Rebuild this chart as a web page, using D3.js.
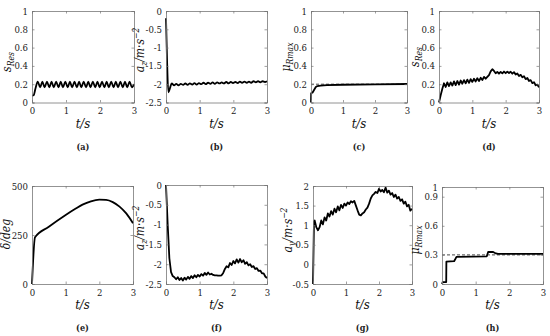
<!DOCTYPE html>
<html><head><meta charset="utf-8">
<script src="https://cdn.jsdelivr.net/npm/d3@7"></script>
<style>
body{margin:0;background:#fff}
svg{display:block}
svg text{font-family:"DejaVu Serif Condensed","DejaVu Serif",serif}
</style>
</head><body>
<script>
// ---------- DATA ----------
const xTicks = [0, 1, 2, 3];
const panelLetters = ["(a)", "(b)", "(c)", "(d)", "(e)", "(f)", "(g)", "(h)"];

// (a) s_Res
const tA = [0, 0.05, 0.1, 0.17, 0.24, 0.305, 0.37, 0.44, 0.51, 0.575, 0.64, 0.71, 0.78, 0.845, 0.91, 0.98, 1.05, 1.115, 1.18, 1.25, 1.32, 1.385, 1.45, 1.52, 1.59, 1.655, 1.72, 1.79, 1.86, 1.925, 1.99, 2.06, 2.13, 2.195, 2.26, 2.33, 2.4, 2.465, 2.53, 2.6, 2.67, 2.735, 2.8, 2.87, 2.94, 3.0];
const vA = [0.075, 0.08, 0.15, 0.228, 0.165, 0.228, 0.165, 0.228, 0.165, 0.228, 0.165, 0.228, 0.165, 0.228, 0.165, 0.228, 0.165, 0.228, 0.165, 0.228, 0.165, 0.228, 0.165, 0.228, 0.165, 0.228, 0.165, 0.228, 0.165, 0.228, 0.165, 0.228, 0.165, 0.228, 0.165, 0.228, 0.165, 0.228, 0.165, 0.228, 0.165, 0.228, 0.165, 0.228, 0.165, 0.2];

// (b) a_z
const tB = [0, 0.03, 0.07, 0.12, 0.17, 0.24, 0.305, 0.37, 0.44, 0.51, 0.575, 0.64, 0.71, 0.78, 0.845, 0.91, 0.98, 1.05, 1.115, 1.18, 1.25, 1.32, 1.385, 1.45, 1.52, 1.59, 1.655, 1.72, 1.79, 1.86, 1.925, 1.99, 2.06, 2.13, 2.195, 2.26, 2.33, 2.4, 2.465, 2.53, 2.6, 2.67, 2.735, 2.8, 2.87, 2.94, 3.0];
const vB = [-0.2, -1.3, -2.22, -2.1, -1.98, -2.03, -1.99, -2.03, -1.99, -2.02, -1.98, -2.02, -1.98, -2.01, -1.97, -2.01, -1.97, -2.0, -1.96, -2.0, -1.96, -1.99, -1.95, -1.99, -1.95, -1.98, -1.95, -1.98, -1.94, -1.98, -1.94, -1.97, -1.94, -1.97, -1.93, -1.96, -1.93, -1.96, -1.93, -1.96, -1.92, -1.95, -1.92, -1.95, -1.92, -1.94, -1.92];

// (c) mu_Rmax
const tC = [0, 0.005, 0.05, 0.1, 0.15, 0.2, 0.3, 0.5, 1.0, 2.0, 3.0];
const vC = [0, 0.1, 0.11, 0.14, 0.17, 0.18, 0.185, 0.19, 0.194, 0.198, 0.202];
const refC = 0.2;

// (d) s_Res
const tD = [0, 0.05, 0.1, 0.15, 0.2, 0.25, 0.3, 0.35, 0.4, 0.45, 0.5, 0.55, 0.6, 0.65, 0.7, 0.75, 0.8, 0.85, 0.9, 0.95, 1.0, 1.05, 1.1, 1.15, 1.2, 1.25, 1.3, 1.35, 1.4, 1.45, 1.5, 1.55, 1.6, 1.65, 1.7, 1.75, 1.8, 1.85, 1.9, 1.95, 2.0, 2.05, 2.1, 2.15, 2.2, 2.25, 2.3, 2.35, 2.4, 2.45, 2.5, 2.55, 2.6, 2.65, 2.7, 2.75, 2.8, 2.85, 2.9, 2.95, 3.0];
const vD = [0.0, 0.08, 0.15, 0.21, 0.17, 0.22, 0.18, 0.22, 0.185, 0.23, 0.19, 0.235, 0.195, 0.24, 0.205, 0.245, 0.21, 0.25, 0.215, 0.255, 0.225, 0.26, 0.23, 0.265, 0.235, 0.27, 0.245, 0.28, 0.26, 0.28, 0.3, 0.34, 0.364, 0.345, 0.32, 0.335, 0.315, 0.335, 0.318, 0.338, 0.32, 0.338, 0.322, 0.336, 0.315, 0.332, 0.305, 0.318, 0.29, 0.302, 0.275, 0.287, 0.255, 0.267, 0.235, 0.245, 0.212, 0.222, 0.188, 0.196, 0.165];

// (e) delta
const tE = [0, 0.09, 0.5, 1.0, 1.3, 1.5, 1.75, 2.0, 2.2, 2.4, 2.6, 2.8, 3.0];
const vE = [0, 238, 292, 352, 385, 405, 422, 430, 429, 418, 395, 360, 310];

// (f) a_z
const tF = [0, 0.05, 0.1, 0.15, 0.2, 0.25, 0.3, 0.35, 0.4, 0.45, 0.5, 0.55, 0.6, 0.65, 0.7, 0.75, 0.8, 0.85, 0.9, 0.95, 1.0, 1.05, 1.1, 1.15, 1.2, 1.25, 1.3, 1.35, 1.4, 1.45, 1.5, 1.55, 1.6, 1.65, 1.7, 1.75, 1.8, 1.85, 1.9, 1.95, 2.0, 2.05, 2.1, 2.15, 2.2, 2.25, 2.3, 2.35, 2.4, 2.45, 2.5, 2.55, 2.6, 2.65, 2.7, 2.75, 2.8, 2.85, 2.9, 2.95, 3.0];
const vF = [0, -1.0, -1.85, -2.2, -2.3, -2.33, -2.38, -2.33, -2.4, -2.35, -2.41, -2.34, -2.39, -2.32, -2.37, -2.3, -2.35, -2.28, -2.33, -2.27, -2.31, -2.25, -2.29, -2.22, -2.27, -2.21, -2.26, -2.24, -2.27, -2.28, -2.28, -2.29, -2.29, -2.28, -2.22, -2.12, -2.05, -2.08, -1.97, -2.02, -1.92, -1.98, -1.88, -1.96, -1.87, -1.95, -1.9, -1.99, -1.95, -2.03, -2.0, -2.07, -2.05, -2.12, -2.1, -2.17, -2.16, -2.23, -2.23, -2.31, -2.35];

// (g) a_y
const tG = [0, 0.03, 0.05, 0.1, 0.15, 0.2, 0.25, 0.3, 0.35, 0.4, 0.45, 0.5, 0.55, 0.6, 0.65, 0.7, 0.75, 0.8, 0.85, 0.9, 0.95, 1.0, 1.05, 1.1, 1.15, 1.2, 1.25, 1.3, 1.35, 1.4, 1.45, 1.5, 1.55, 1.6, 1.65, 1.7, 1.75, 1.8, 1.85, 1.9, 1.95, 2.0, 2.05, 2.1, 2.15, 2.2, 2.25, 2.3, 2.35, 2.4, 2.45, 2.5, 2.55, 2.6, 2.65, 2.7, 2.75, 2.8, 2.85, 2.9, 2.95, 3.0];
const vG = [-0.5, 1.1, 1.12, 0.95, 0.87, 0.95, 1.12, 1.02, 1.2, 1.12, 1.3, 1.22, 1.36, 1.27, 1.42, 1.33, 1.48, 1.38, 1.52, 1.44, 1.55, 1.5, 1.58, 1.54, 1.61, 1.58, 1.62, 1.5, 1.38, 1.27, 1.25, 1.3, 1.33, 1.4, 1.45, 1.55, 1.68, 1.76, 1.8, 1.85, 1.82, 1.93, 1.86, 1.9, 1.84, 1.96, 1.83, 1.88, 1.78, 1.82, 1.72, 1.78, 1.68, 1.72, 1.62, 1.66, 1.55, 1.6, 1.48, 1.52, 1.37, 1.42];

// (h) mu_Rmax
const tH = [0, 0.02, 0.125, 0.13, 0.36, 0.4, 0.43, 1.33, 1.37, 1.52, 1.6, 1.66, 3.0];
const vH = [0, 0.02, 0.02, 0.23, 0.235, 0.26, 0.28, 0.285, 0.33, 0.33, 0.315, 0.31, 0.31];
const refH = 0.3;

// y ticks
const yTicksA = [0, 0.2, 0.4, 0.6, 0.8, 1];
const yTicksB = [0, -0.5, -1, -1.5, -2, -2.5];
const yTicksC = [0, 0.2, 0.4, 0.6, 0.8, 1];
const yTicksD = [0, 0.2, 0.4, 0.6, 0.8, 1];
const yTicksE = [0, 250, 500];
const yTicksF = [0, -0.5, -1, -1.5, -2, -2.5];
const yTicksG = [-0.5, 0, 0.5, 1, 1.5, 2];
const yTicksH = [0, 0.3, 0.6, 0.9, 1];

// ---------- LAYOUT ----------
const W = 550, H = 336;
const svg = d3.select("body").append("svg").attr("width", W).attr("height", H);

const panels = [
  {t: tA, v: vA, yt: yTicksA, dom: [0, 1], box: [32, 134, 11, 102.5], lbl: "sRes", lx: 11, ly: 62, smooth: true},
  {t: tB, v: vB, yt: yTicksB, dom: [-2.5, 0], box: [166, 267, 11, 102.5], lbl: "az", lx: 144, ly: 50, smooth: true},
  {t: tC, v: vC, yt: yTicksC, dom: [0, 1], box: [311, 407, 11, 102.5], lbl: "mu", lx: 290, ly: 57, ref: refC},
  {t: tD, v: vD, yt: yTicksD, dom: [0, 1], box: [439, 539, 11, 102.5], lbl: "sRes", lx: 419, ly: 57},
  {t: tE, v: vE, yt: yTicksE, dom: [0, 500], box: [32, 133, 186, 284], lbl: "delta", lx: 10, ly: 234, smooth: true},
  {t: tF, v: vF, yt: yTicksF, dom: [-2.5, 0], box: [166, 267, 185, 284], lbl: "az", lx: 144, ly: 228},
  {t: tG, v: vG, yt: yTicksG, dom: [-0.5, 2], box: [313, 412, 186, 284], lbl: "ay", lx: 292, ly: 230},
  {t: tH, v: vH, yt: yTicksH, dom: [0, 1], box: [442, 543, 187, 284], lbl: "mu", lx: 419, ly: 240, ref: refH}
];

const BOX = "#777";

function addYLabel(g, kind, x, y) {
  const t = g.append("text")
    .attr("transform", `translate(${x},${y}) rotate(-90)`)
    .attr("text-anchor", "middle")
    .attr("font-style", "italic")
    .attr("font-size", 12).attr("fill", "#111");
  if (kind === "sRes") {
    t.append("tspan").text("s");
    t.append("tspan").attr("font-size", 8.5).attr("dy", 3).text("Res");
  } else if (kind === "mu") {
    t.append("tspan").text("μ");
    t.append("tspan").attr("font-size", 8.5).attr("dy", 3).text("Rmax");
  } else if (kind === "delta") {
    t.append("tspan").text("δ/deg");
  } else if (kind === "az" || kind === "ay") {
    t.append("tspan").text("a");
    t.append("tspan").attr("font-size", 8.5).attr("dy", 3).text(kind === "az" ? "z" : "y");
    t.append("tspan").attr("dy", -3).text("/m·s");
    t.append("tspan").attr("font-size", 8.5).attr("dy", -5).text("−2");
  }
}

panels.forEach((p, i) => {
  const [x0, x1, y0, y1] = p.box;
  const x = d3.scaleLinear().domain([0, 3]).range([x0, x1]);
  const y = d3.scaleLinear().domain(p.dom).range([y1, y0]);
  const g = svg.append("g");

  const line = d3.line().x((d, k) => x(p.t[k])).y(d => y(d))
    .curve(p.smooth ? d3.curveMonotoneX : d3.curveLinear);
  if (p.ref !== undefined) {
    g.append("line").attr("x1", x0).attr("x2", x1).attr("y1", y(p.ref)).attr("y2", y(p.ref))
      .attr("stroke", "#333").attr("stroke-width", 0.9).attr("stroke-dasharray", "3,2");
  }
  g.append("path").datum(p.v).attr("d", line).attr("fill", "none")
    .attr("stroke", "#000").attr("stroke-width", 1.8).attr("stroke-linejoin", "round");

  const axB = d3.axisBottom(x).tickValues(xTicks).tickSize(-2.5).tickPadding(5).tickFormat(d3.format("d"));
  const axT = d3.axisTop(x).tickValues(xTicks).tickSize(-2.5).tickFormat("");
  const axL = d3.axisLeft(y).tickValues(p.yt).tickSize(-2.5).tickPadding(4).tickFormat(d => String(d));
  const axR = d3.axisRight(y).tickValues(p.yt).tickSize(-2.5).tickFormat("");
  const gb = g.append("g").attr("transform", `translate(0,${y1})`).call(axB);
  const gt = g.append("g").attr("transform", `translate(0,${y0})`).call(axT);
  const gl = g.append("g").attr("transform", `translate(${x0},0)`).call(axL);
  const gr = g.append("g").attr("transform", `translate(${x1},0)`).call(axR);
  [gb, gt, gl, gr].forEach(a => {
    a.attr("font-family", null);
    a.selectAll("path.domain").attr("stroke", BOX).attr("stroke-width", 0.8);
    a.selectAll(".tick line").attr("stroke", BOX).attr("stroke-width", 0.7);
    a.selectAll("text").attr("font-size", 9.5).attr("fill", "#222");
  });

  g.append("text").attr("x", (x0 + x1) / 2).attr("y", y1 + 25)
    .attr("text-anchor", "middle").attr("font-style", "italic")
    .attr("font-size", 13).attr("fill", "#111").text("t/s");

  addYLabel(g, p.lbl, p.lx, p.ly);

  g.append("text").attr("x", (x0 + x1) / 2).attr("y", i < 4 ? 150 : 331)
    .attr("text-anchor", "middle").attr("font-weight", "bold")
    .attr("font-size", 9).attr("fill", "#222").text(panelLetters[i]);
});
</script>
</body></html>
